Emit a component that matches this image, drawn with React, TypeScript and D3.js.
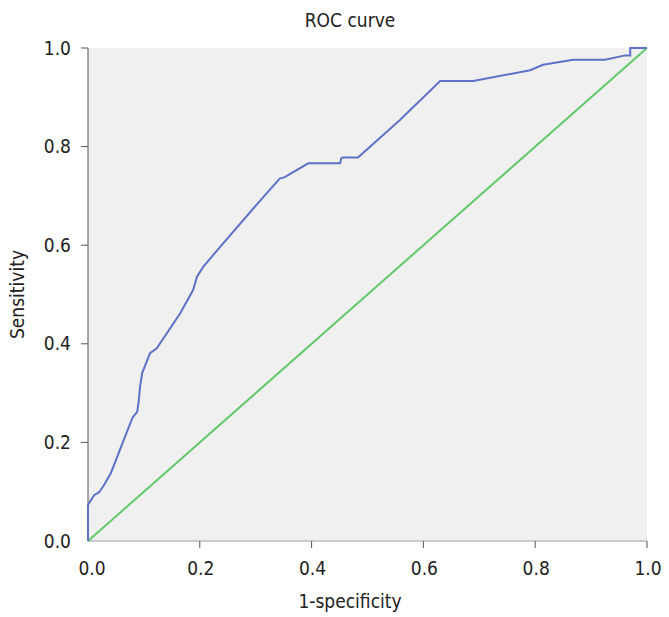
import React from "react";
import * as d3 from "d3";

const fprValues = [0, 0, 0.002, 0.011, 0.02, 0.029, 0.041, 0.064, 0.08, 0.088, 0.091, 0.093, 0.097, 0.111, 0.123, 0.165, 0.188, 0.195, 0.206, 0.236, 0.306, 0.343, 0.352, 0.394, 0.451, 0.453, 0.456, 0.483, 0.558, 0.63, 0.689, 0.791, 0.814, 0.868, 0.925, 0.961, 0.97, 0.97, 1.0];
const tprValues = [0, 0.073, 0.077, 0.093, 0.099, 0.114, 0.138, 0.205, 0.251, 0.262, 0.286, 0.312, 0.341, 0.381, 0.391, 0.462, 0.509, 0.536, 0.556, 0.596, 0.688, 0.735, 0.738, 0.766, 0.766, 0.776, 0.778, 0.778, 0.854, 0.933, 0.933, 0.955, 0.966, 0.976, 0.976, 0.985, 0.985, 1.0, 1.0];
const refX = [0, 1];
const refY = [0, 1];
const xTicks = [0, 0.2, 0.4, 0.6, 0.8, 1.0];
const yTicks = [0, 0.2, 0.4, 0.6, 0.8, 1.0];

const W = 669, H = 617;
const left = 88, right = 647, top = 48, bottom = 541;
const FONT = "'DejaVu Sans Condensed', 'DejaVu Sans', sans-serif";

export default function App() {
  const x = d3.scaleLinear().domain([0, 1]).range([left, right]);
  const y = d3.scaleLinear().domain([0, 1]).range([bottom, top]);
  const line = d3.line<[number, number]>().x(d => x(d[0])).y(d => y(d[1]));
  const roc = fprValues.map((v, i) => [v, tprValues[i]] as [number, number]);
  const ref = refX.map((v, i) => [v, refY[i]] as [number, number]);
  return (
    <svg width={W} height={H} style={{ position: "absolute", left: 0, top: 0, background: "#fff" }} fontFamily={FONT}>
      <rect x={left} y={top} width={right - left} height={bottom - top} fill="#f0f0f0" />
      <line x1={left} x2={right} y1={bottom} y2={bottom} stroke="#a0a0a0" strokeWidth={1} />
      <line x1={left} x2={left} y1={top} y2={bottom} stroke="#555" strokeWidth={1} />
      <path d={line(ref) || ""} fill="none" stroke="#62c96a" strokeWidth={2} />
      <path d={line(roc) || ""} fill="none" stroke="#5d72c8" strokeWidth={2} />
      {yTicks.map(t => (
        <g key={"y" + t}>
          {t > 0 && <line x1={left - 7} x2={left} y1={y(t)} y2={y(t)} stroke="#555" />}
          <text x={left - 17} y={y(t)} dy="0.35em" textAnchor="end" fontSize={19} fill="#222">{t.toFixed(1)}</text>
        </g>
      ))}
      {xTicks.map(t => (
        <g key={"x" + t}>
          {t > 0 && <line x1={x(t)} x2={x(t)} y1={bottom} y2={bottom + 7} stroke="#555" />}
          <text x={t === 0 ? x(t) + 4 : x(t) + 1} y={568} dy="0.35em" textAnchor="middle" fontSize={19} fill="#222">{t.toFixed(1)}</text>
        </g>
      ))}
      <text x={350} y={20} dy="0.35em" textAnchor="middle" fontSize={19} fill="#222">ROC curve</text>
      <text x={350} y={601} dy="0.35em" textAnchor="middle" fontSize={19} fill="#222">1-specificity</text>
      <text transform={`translate(17,${(top + bottom) / 2}) rotate(-90)`} dy="0.35em" textAnchor="middle" fontSize={19} fill="#222">Sensitivity</text>
    </svg>
  );
}
